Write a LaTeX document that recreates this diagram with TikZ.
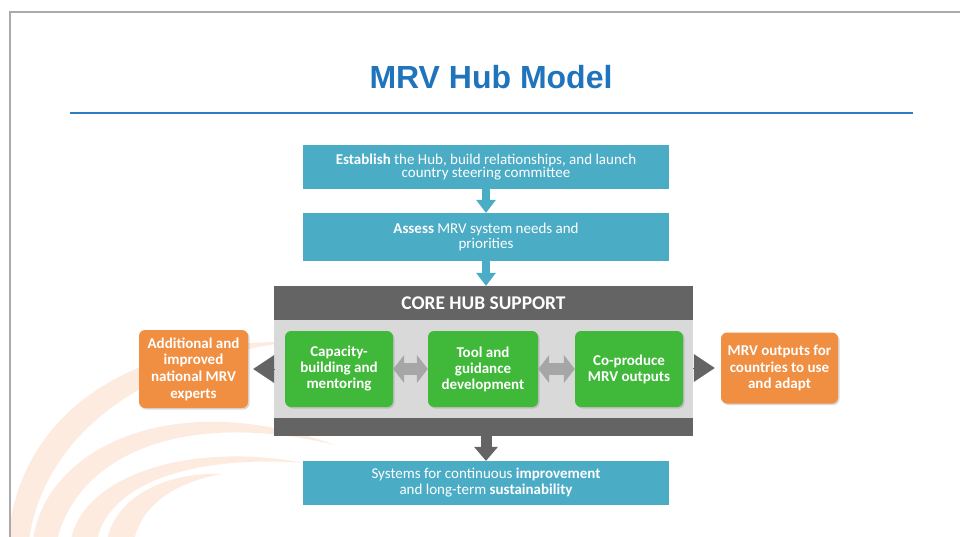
\documentclass[tikz,border=0pt]{standalone}
\usepackage{fontspec}
\setmainfont{Carlito}
\newfontfamily\titlefont{Liberation Sans}
\usetikzlibrary{arrows.meta,shadows}
\definecolor{hubteal}{RGB}{75,172,198}
\definecolor{hubgreen}{RGB}{64,185,58}
\definecolor{huborange}{RGB}{240,142,66}
\definecolor{hubdark}{RGB}{100,100,100}
\definecolor{hublight}{RGB}{217,217,217}
\definecolor{hubgrey}{RGB}{166,166,166}
\definecolor{hubblue}{RGB}{31,116,187}
\definecolor{hubline}{RGB}{46,125,192}
\definecolor{hubpeach}{RGB}{253,235,224}
\definecolor{hubframe}{RGB}{170,170,170}

\begin{document}
\begin{tikzpicture}[x=1pt,y=-1pt,
  stepbox/.style={fill=hubteal,text=white,minimum width=366pt,inner sep=0pt,align=center},
  greenbox/.style={fill=hubgreen,text=white,rounded corners=6pt,minimum height=76pt,inner sep=0pt,align=center,
    font=\fontsize{15}{16}\selectfont\bfseries,drop shadow={shadow xshift=1.5pt,shadow yshift=-1.5pt,opacity=0.3}},
  orangebox/.style={fill=huborange,text=white,rounded corners=6pt,inner sep=0pt,align=center,
    font=\fontsize{15}{16.7}\selectfont\bfseries,drop shadow={shadow xshift=1.5pt,shadow yshift=-1.5pt,opacity=0.3}},
  tealarrow/.style={hubteal,line width=8pt,-{Triangle[width=20pt,length=13pt,line width=0pt]}},
  darkarrow/.style={hubdark,line width=11pt,-{Triangle[width=24pt,length=14pt,line width=0pt]}},
  sidearrow/.style={hubdark,line width=1pt,-{Triangle[width=28pt,length=21pt,line width=0pt]}},
  twoway/.style={hubgrey,line width=12pt,{Triangle[width=28pt,length=11pt,line width=0pt]}-{Triangle[width=28pt,length=11pt,line width=0pt]}}]
\useasboundingbox (0,0) rectangle (960,537);
\begin{scope}
\clip (11,13) rectangle (960,537);
\fill[hubpeach] (8,540) .. controls (18,420) and (120,340) .. (290,342) .. controls (150,360) and (45,430) .. (29,540) -- cycle;
\fill[hubpeach] (33,540) .. controls (45,450) and (170,385) .. (335,445) .. controls (190,410) and (80,450) .. (57,540) -- cycle;
\fill[hubpeach] (71,540) .. controls (82,480) and (180,440) .. (305,463) .. controls (200,455) and (110,480) .. (97,540) -- cycle;
\fill[hubpeach] (107,540) .. controls (115,500) and (160,472) .. (222,474) .. controls (175,482) and (142,505) .. (134,540) -- cycle;
\end{scope}
\draw[hubframe,line width=1.5pt] (10,537) -- (10,12) -- (960,12);
\node (title) at (491,77) [text=hubblue,font=\titlefont\fontsize{32}{36}\selectfont\bfseries] {MRV Hub Model};
\draw[hubline,line width=2.5pt] (70,113) -- (913,113);

\node (core) at (483.5,361) [fill=hubdark,minimum width=419pt,minimum height=150pt,inner sep=0pt] {};
\node (band) at (483.5,369) [fill=hublight,minimum width=419pt,minimum height=98pt,inner sep=0pt] {};
\node (hdr) at (483.5,303) [text=white,font=\fontsize{19.4}{20}\selectfont\bfseries] {CORE HUB SUPPORT};

\node (est) at (486,167) [stepbox,minimum height=44pt,font=\fontsize{15}{12.5}\selectfont] {\textbf{Establish} the Hub, build relationships, and launch\\country steering committee};
\node (ass) at (486,237) [stepbox,minimum height=48pt,font=\fontsize{15}{15}\selectfont] {\textbf{Assess} MRV system needs and\\priorities};
\node (sys) at (486,483) [stepbox,minimum height=44pt,font=\fontsize{15}{16}\selectfont] {Systems for continuous \textbf{improvement}\\and long-term \textbf{sustainability}};

\node (cap) at (339,369) [greenbox,minimum width=108pt] {Capacity-\\building and\\mentoring};
\node (tool) at (483,369) [greenbox,minimum width=110pt] {Tool and\\guidance\\development};
\node (co) at (629,369) [greenbox,minimum width=108pt] {Co-produce\\MRV outputs};

\node (add) at (193.5,369) [orangebox,minimum width=109pt,minimum height=78pt] {Additional and\\improved\\national MRV\\experts};
\node (out) at (779.5,368) [orangebox,minimum width=117pt,minimum height=71pt] {MRV outputs for\\countries to use\\and adapt};

\draw[tealarrow] (est) -- (ass);
\draw[tealarrow] (ass.south) -- (ass.south |- core.north);
\draw[darkarrow] (core.south -| sys) -- (sys.north);
\draw[twoway] (cap) -- (tool);
\draw[twoway] (tool) -- (co);
\draw[sidearrow,shorten >=5pt] (core.west |- add) -- (add.east);
\draw[sidearrow,shorten >=6pt] (core.east |- out) -- (out.west);
\end{tikzpicture}
\end{document}
